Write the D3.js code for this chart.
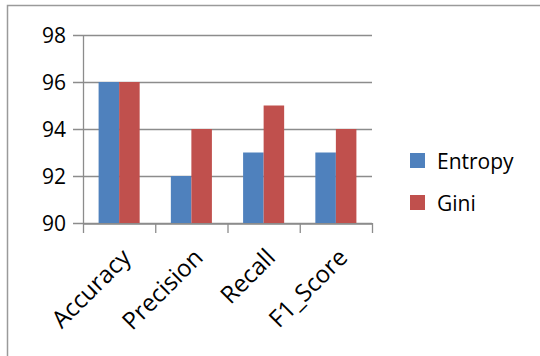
<!DOCTYPE html>
<html>
<head>
<meta charset="utf-8">
<script src="https://cdn.jsdelivr.net/npm/d3@7/dist/d3.min.js"></script>
<style>
  body { margin: 0; background: #fff; }
  text { font-family: "Open Sans", Lato, sans-serif; fill: #000; }
</style>
</head>
<body>
<div id="chart"></div>
<script>
// data
let metrics = ["Accuracy", "Precision", "Recall", "F1_Score"];
let seriesNames = ["Entropy", "Gini"];
let entropyValues = [96, 92, 93, 93];
let giniValues = [96, 94, 95, 94];
let yTicks = [90, 92, 94, 96, 98];
let colors = ["#4F81BD", "#C0504D"];

let totalWidth = 540, totalHeight = 356;
let plot = {left: 83, right: 372, top: 35, bottom: 223};

let svg = d3.select("#chart").append("svg")
    .attr("width", totalWidth)
    .attr("height", totalHeight);

// outer chart frame
svg.append("rect")
    .attr("x", 7.5).attr("y", 5.5)
    .attr("width", 560).attr("height", 400)
    .attr("fill", "none")
    .attr("stroke", "#9a9a9a")
    .attr("stroke-width", 1.5);

let xScale = d3.scaleBand()
    .domain(metrics)
    .range([plot.left, plot.right]);

// two bars side by side, centred in each category
let xInner = d3.scaleBand()
    .domain(seriesNames)
    .range([0, xScale.bandwidth()])
    .paddingInner(0)
    .paddingOuter(0.76);

let yScale = d3.scaleLinear()
    .domain([90, 98])
    .range([plot.bottom, plot.top]);

// gridlines
svg.append("g")
    .selectAll("line")
    .data(yTicks)
    .enter()
    .append("line")
    .attr("x1", plot.left - 10)
    .attr("x2", plot.right)
    .attr("y1", d => yScale(d) + 0.5)
    .attr("y2", d => yScale(d) + 0.5)
    .attr("stroke", "#8c8c8c")
    .attr("stroke-width", 1.3);

// y labels
svg.append("g")
    .selectAll("text")
    .data(yTicks)
    .enter()
    .append("text")
    .attr("x", plot.left - 17)
    .attr("y", d => yScale(d))
    .attr("dy", "0.36em")
    .attr("text-anchor", "end")
    .style("font-size", "21px")
    .text(d => d);

// bars
let rows = metrics.map((m, i) => ({metric: m, values: [entropyValues[i], giniValues[i]]}));

let groups = svg.append("g")
    .selectAll("g")
    .data(rows)
    .enter()
    .append("g")
    .attr("transform", d => "translate(" + xScale(d.metric) + ",0)");

groups.selectAll("rect")
    .data(d => d.values.map((v, j) => ({name: seriesNames[j], value: v, color: colors[j]})))
    .enter()
    .append("rect")
    .attr("x", d => xInner(d.name))
    .attr("y", d => yScale(d.value))
    .attr("width", xInner.bandwidth())
    .attr("height", d => plot.bottom - yScale(d.value))
    .attr("fill", d => d.color);

// y axis line
svg.append("line")
    .attr("x1", plot.left + 0.5).attr("x2", plot.left + 0.5)
    .attr("y1", plot.top).attr("y2", plot.bottom)
    .attr("stroke", "#8c8c8c").attr("stroke-width", 1.3);

// x axis
let xAxis = d3.axisBottom(xScale).tickSize(0).tickFormat("");
svg.append("g")
    .attr("transform", "translate(0," + (plot.bottom + 0.5) + ")")
    .call(xAxis)
    .call(g => g.select(".domain").attr("stroke", "#8c8c8c").attr("stroke-width", 1.3));

// category separator ticks
let tickPos = metrics.map(m => xScale(m)).concat([plot.right]);
svg.append("g")
    .selectAll("line")
    .data(tickPos)
    .enter()
    .append("line")
    .attr("x1", d => d + 0.5).attr("x2", d => d + 0.5)
    .attr("y1", plot.bottom).attr("y2", plot.bottom + 10)
    .attr("stroke", "#8c8c8c").attr("stroke-width", 1.3);

// rotated category labels
svg.append("g")
    .selectAll("text")
    .data(metrics)
    .enter()
    .append("text")
    .attr("transform", d => "translate(" + (xScale(d) + xScale.bandwidth() / 2 + 6) + "," + (plot.bottom + 29) + ") rotate(-45)")
    .attr("text-anchor", "end")
    .attr("dy", 10)
    .style("font-size", "24px")
    .text(d => d);

// legend
let legend = svg.append("g")
    .selectAll("g")
    .data(seriesNames)
    .enter()
    .append("g")
    .attr("transform", (d, i) => "translate(410," + (153 + i * 42) + ")");

legend.append("rect")
    .attr("width", 15).attr("height", 15)
    .attr("fill", (d, i) => colors[i]);

legend.append("text")
    .attr("x", 27)
    .attr("y", 8)
    .attr("dy", "0.36em")
    .style("font-size", "21px")
    .text(d => d);
</script>
</body>
</html>
